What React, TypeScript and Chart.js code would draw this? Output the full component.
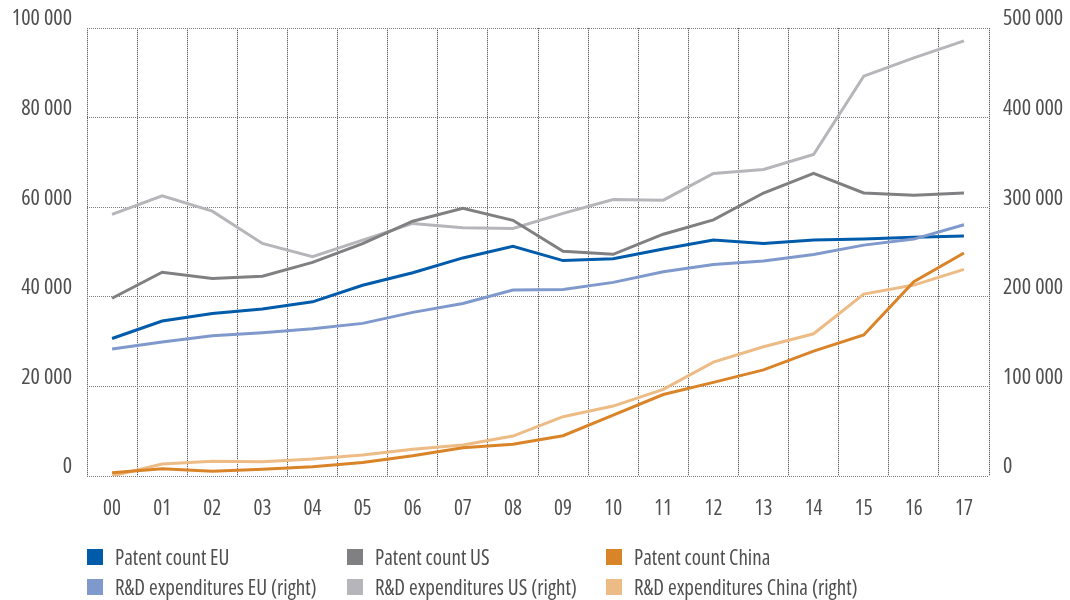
import React, { useEffect, useRef } from "react";
import { Chart, registerables } from "chart.js";

Chart.register(...registerables);

const years = ["00", "01", "02", "03", "04", "05", "06", "07", "08", "09", "10", "11", "12", "13", "14", "15", "16", "17"];

const patentEU = [30700, 34600, 36300, 37300, 38900, 42600, 45400, 48700, 51300, 48100, 48500, 50700, 52700, 51900, 52700, 52900, 53300, 53600];
const patentUS = [39700, 45500, 44100, 44600, 47700, 51900, 56900, 59800, 57100, 50200, 49500, 54000, 57200, 63200, 67600, 63200, 62700, 63200];
const patentCN = [740, 1640, 1040, 1500, 2080, 3000, 4500, 6300, 7100, 9000, 13600, 18200, 20900, 23700, 27900, 31500, 43400, 49800];
const rdEU = [141700, 149600, 156600, 160000, 164400, 170400, 182700, 192700, 207600, 208300, 216200, 228000, 236200, 240000, 247400, 257800, 264500, 280500];
const rdUS = [292100, 312800, 295700, 259700, 244800, 263400, 282000, 277100, 276400, 293200, 308800, 308000, 337800, 342300, 359000, 446400, 466900, 485800];
const rdCN = [0, 13400, 16400, 16000, 19000, 23400, 29800, 34600, 44600, 66200, 78100, 96700, 127200, 144300, 158800, 203100, 213200, 230700];

const seriesLabels = [
  "Patent count EU",
  "Patent count US",
  "Patent count China",
  "R&D expenditures EU (right)",
  "R&D expenditures US (right)",
  "R&D expenditures China (right)",
];
const seriesColors = ["#005BAA", "#808083", "#DA8429", "#8099CC", "#B6B6BA", "#EDBB85"];

const FONT = "'Open Sans', 'DejaVu Sans Condensed', sans-serif";
const TEXT = "#4f4f4f";

const fmt = (v: number) => String(v).replace(/\B(?=(\d{3})+(?!\d))/g, " ");

export default function App() {
  const ref = useRef<HTMLCanvasElement | null>(null);

  useEffect(() => {
    if (!ref.current) return;
    const values = [patentEU, patentUS, patentCN, rdEU, rdUS, rdCN];
    const axes = ["y", "y", "y", "y1", "y1", "y1"];
    const orders = [1, 2, 4, 0, 3, 5];
    const tickFont = (size: number) => ({ family: FONT, size, weight: "condensed" });
    const chart = new Chart(ref.current, {
      type: "line",
      data: {
        labels: years,
        datasets: values.map((d, i) => ({
          label: seriesLabels[i],
          data: d,
          yAxisID: axes[i],
          borderColor: seriesColors[i],
          backgroundColor: seriesColors[i],
          borderWidth: 3,
          pointRadius: 0,
          tension: 0,
          fill: false,
          order: orders[i],
        })),
      },
      options: {
        animation: false,
        responsive: false,
        maintainAspectRatio: false,
        layout: { padding: { left: 0, right: 0, top: 28, bottom: 76 } },
        plugins: { legend: { display: false }, tooltip: { enabled: false } },
        scales: {
          x: {
            offset: true,
            grid: { color: "#3a3a3a", lineWidth: 1, drawTicks: false, offset: true },
            border: { display: false, dash: [1, 1] },
            ticks: { color: TEXT, font: tickFont(21), padding: 20, maxRotation: 0 },
            afterFit: (s: any) => { s.height = 48; },
          },
          y: {
            position: "left",
            min: 0,
            max: 100000,
            grid: { color: "#7a7a7a", lineWidth: 1, drawTicks: false },
            border: { display: false, dash: [1, 1] },
            ticks: {
              stepSize: 20000,
              color: TEXT,
              font: tickFont(22),
              padding: 15,
              labelOffset: -9,
              callback: (v: any) => fmt(Number(v)),
            },
            afterFit: (s: any) => { s.width = 87; },
          },
          y1: {
            position: "right",
            min: 0,
            max: 500000,
            grid: { drawOnChartArea: false, drawTicks: false },
            border: { display: false },
            ticks: {
              stepSize: 100000,
              color: TEXT,
              font: tickFont(22),
              padding: 14,
              labelOffset: -9,
              callback: (v: any) => fmt(Number(v)),
            },
            afterFit: (s: any) => { s.width = 81; },
          },
        },
      },
    } as any);
    return () => chart.destroy();
  }, []);

  const cols = [87, 347, 606];
  const rows = [549, 579];

  return (
    <div style={{ position: "absolute", left: 0, top: 0, width: 1070, height: 600, background: "#fff" }}>
      <canvas ref={ref} width={1070} height={600} style={{ position: "absolute", left: 0, top: 0, width: 1070, height: 600 }} />
      {seriesLabels.map((lab, i) => {
        const col = i % 3;
        const row = Math.floor(i / 3);
        return (
          <div
            key={lab}
            style={{
              position: "absolute",
              left: cols[col],
              top: rows[row] - 5,
              height: 26,
              display: "flex",
              alignItems: "center",
              fontFamily: FONT,
              fontStretch: "condensed",
              fontSize: 21,
              color: TEXT,
              whiteSpace: "nowrap",
            }}
          >
            <span style={{ display: "inline-block", width: 16, height: 16, background: seriesColors[i], marginRight: 12, flex: "none" }} />
            <span>{lab}</span>
          </div>
        );
      })}
    </div>
  );
}
